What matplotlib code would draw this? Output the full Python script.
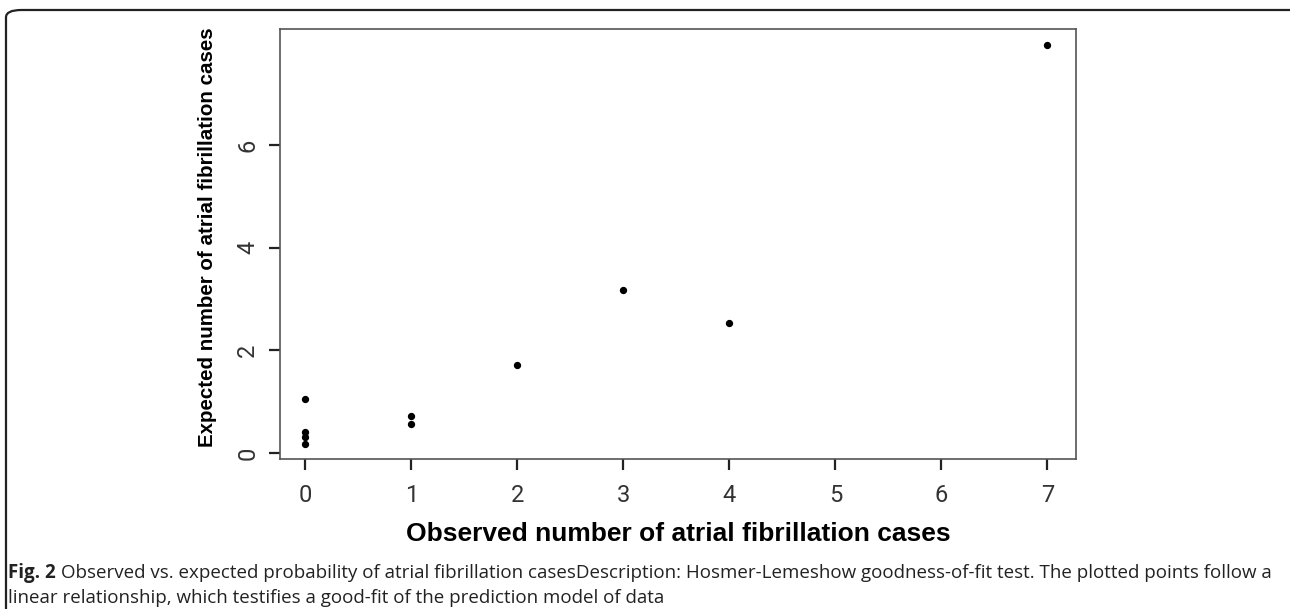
import matplotlib.pyplot as plt
from matplotlib.patches import FancyBboxPatch

# observed vs expected counts (Hosmer-Lemeshow groups)
observed = [0, 0, 0, 0, 1, 1, 2, 3, 4, 7]
expected = [1.05, 0.40, 0.30, 0.18, 0.72, 0.56, 1.72, 3.18, 2.53, 7.95]

x_ticks = [0, 1, 2, 3, 4, 5, 6, 7]
y_ticks = [0, 2, 4, 6]

fig = plt.figure(figsize=(12.9, 6.09), dpi=100)

# rounded frame around the whole figure
frame = FancyBboxPatch((6 / 1290, -0.2), 1.2, 1.2 - 10 / 609,
                       boxstyle="round,pad=0,rounding_size=0.012",
                       transform=fig.transFigure, fill=False,
                       edgecolor="#222222", linewidth=1.6)
fig.patches.append(frame)

ax = fig.add_axes([280 / 1290, 1 - 459 / 609, 796 / 1290, 430 / 609])
ax.scatter(observed, expected, s=18, color="black", zorder=3)

ax.set_xlim(-0.24, 7.27)
ax.set_ylim(-0.12, 8.26)
ax.set_xticks(x_ticks)
ax.set_yticks(y_ticks)
ax.set_xticklabels([str(v) for v in x_ticks])
ax.set_yticklabels([str(v) for v in y_ticks], rotation=90, va="center")

for s in ax.spines.values():
    s.set_color("#555555")
    s.set_linewidth(1.2)

ax.tick_params(axis="both", direction="out", length=8, width=1.6,
               color="#222222", labelsize=17, labelcolor="#333333")
ax.tick_params(axis="x", pad=10)
ax.tick_params(axis="y", pad=7)
for lab in ax.get_xticklabels() + ax.get_yticklabels():
    lab.set_fontfamily("Roboto")

ax.set_xlabel("Observed number of atrial fibrillation cases",
              fontsize=19, fontweight="bold", family="Liberation Sans", labelpad=11)
ax.set_ylabel("Expected number of atrial fibrillation cases",
              fontsize=14.8, fontweight="bold", family="Liberation Sans")
ax.yaxis.set_label_coords(-0.079, 0.515)

# caption
cap_kw = dict(fontsize=13.5, family="Open Sans", va="center", color="#222222")
t1 = fig.text(8 / 1290, 1 - 573 / 609, "Fig. 2", fontweight="bold", **cap_kw)
ax.annotate("Observed vs. expected probability of atrial fibrillation casesDescription: "
            "Hosmer-Lemeshow goodness-of-fit test. The plotted points follow a",
            xy=(1, 0.5), xycoords=t1, xytext=(4, 0), textcoords="offset points",
            annotation_clip=False, **cap_kw)
fig.text(8 / 1290, 1 - 598 / 609,
         "linear relationship, which testifies a good-fit of the prediction model of data",
         **cap_kw)

fig.savefig("out.png", dpi=100)
